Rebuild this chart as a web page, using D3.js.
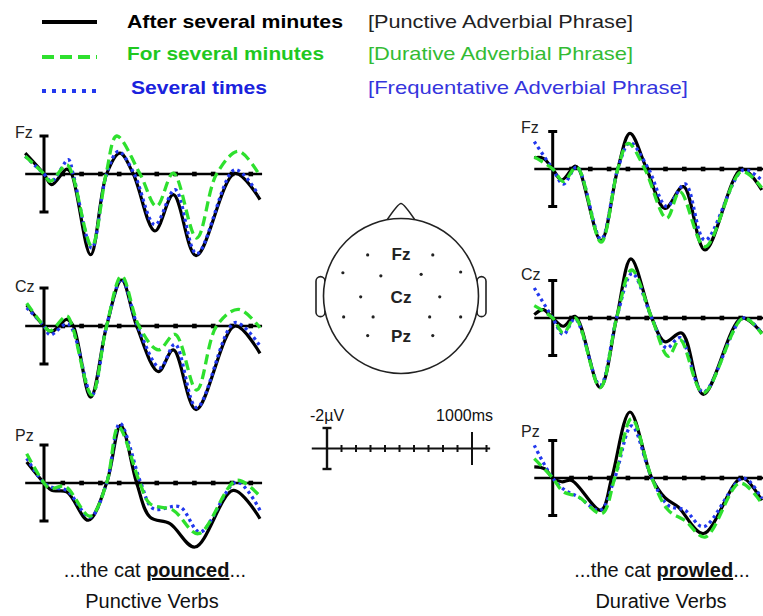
<!DOCTYPE html>
<html><head><meta charset="utf-8">
<script src="https://cdn.jsdelivr.net/npm/d3@7"></script>
<style>body{margin:0;background:#fff}svg{display:block}text{font-family:Arial,"Liberation Sans",sans-serif}</style>
</head><body><svg id="c" width="763" height="616"></svg>
<script>
// ---------------- DATA ----------------
const conditions = ["After several minutes", "For several minutes", "Several times"];
const phrases = ["[Punctive Adverbial Phrase]", "[Durative Adverbial Phrase]", "[Frequentative Adverbial Phrase]"];
const electrodes = ["Fz", "Cz", "Pz"];
const timeTicks = [100, 200, 300, 400, 500, 600, 700, 800, 900, 1000, 1100];
const calibAmp = 2;        // µV, negative plotted up
const calibTime = 1000;    // ms

// Punctive verbs ([time ms, amplitude µV])
const punctFzAfter = [[-100,-1.1],[0,0],[41,0.56],[121,-0.26],[147,0],[248,4.25],[333,0],[404,-1.1],[475,0],[590,3.0],[688,1.09],[809,4.3],[1016,-0.03],[1149,1.35]];
const punctFzFor   = [[-100,-0.93],[0,0],[32,0.39],[121,-0.49],[150,0],[254,3.8],[330,0],[387,-2.0],[511,0],[599,1.7],[688,-0.05],[812,3.37],[918,0],[1034,-1.19],[1140,-0.05]];
const punctFzTimes = [[-100,-0.93],[0,0],[41,0.39],[129,-0.75],[155,0],[254,3.9],[333,0],[396,-1.19],[480,0],[590,2.67],[697,0.82],[812,4.2],[1016,-0.23],[1140,1.09]];

const punctCzAfter = [[-92,-1.1],[0,0],[41,0.3],[121,-0.35],[156,0],[248,3.75],[333,0],[413,-2.42],[493,0],[608,2.4],[688,1.26],[809,4.4],[1016,0],[1149,1.44]];
const punctCzFor   = [[-92,-1.2],[0,0],[32,0.26],[121,-0.53],[150,0],[254,3.63],[333,0],[413,-2.63],[505,0],[608,1.26],[697,0.44],[812,3.37],[918,0],[1034,-0.88],[1149,0.09]];
const punctCzTimes = [[-92,-0.96],[0,0],[32,0.47],[129,-0.1],[254,3.63],[333,0],[413,-2.46],[498,0],[617,2.2],[697,0.96],[812,4.3],[1016,-0.18],[1149,1.05]];

const punctPzAfter = [[-92,-1.1],[0,0],[41,0.39],[121,0.47],[236,1.96],[333,0],[408,-3.04],[493,0],[564,1.8],[670,2.14],[803,3.37],[1007,0.39],[1149,1.88]];
const punctPzFor   = [[-92,-1.54],[0,0],[32,0.3],[112,0.18],[245,1.75],[333,0],[396,-2.95],[510,0],[564,1.09],[688,1.44],[821,2.67],[1025,-0.14],[1149,0.7]];
const punctPzTimes = [[-92,-1.3],[0,0],[50,0.25],[121,0.39],[245,1.8],[333,0],[404,-3.13],[515,0],[581,1.35],[723,1.26],[830,2.58],[1025,-0.05],[1149,1.44]];

// Durative verbs
const durFzAfter = [[-98,-0.6],[-50,-0.57],[0,0],[48,0.59],[119,-0.16],[140,0],[257,3.82],[346,0],[411,-1.9],[500,0],[597,2.1],[695,0.94],[810,4.32],[1005,0],[1112,1.12]];
const durFzFor   = [[-98,-0.65],[0,0],[57,0.67],[128,-0.1],[257,3.9],[346,0],[402,-1.37],[490,0],[606,2.63],[677,1.21],[810,4.14],[1005,0.14],[1112,1.0]];
const durFzTimes = [[-98,-1.46],[0,0],[57,0.8],[128,-0.1],[257,3.75],[346,0],[411,-1.4],[510,0],[606,2.0],[704,0.8],[810,3.8],[1014,0.05],[1112,0.6]];

const durCzAfter = [[-98,-0.18],[-50,-0.45],[0,0],[57,0.44],[119,-0.09],[252,3.71],[340,0],[416,-3.15],[527,0],[597,1.27],[686,0.8],[801,4.07],[1005,0],[1112,0.8]];
const durCzFor   = [[-98,-0.66],[0,0],[57,0.8],[119,0],[252,3.71],[340,0],[420,-2.56],[527,0],[615,2.04],[677,1.15],[801,4.0],[1014,0],[1112,0.85]];
const durCzTimes = [[-98,-1.6],[0,0],[57,0.88],[119,0.05],[252,3.6],[340,0],[423,-2.38],[527,0],[606,1.6],[677,1.05],[801,3.95],[1014,0],[1112,0.8]];

const durPzAfter = [[-98,-0.59],[-41,-0.48],[0,0],[48,0.2],[101,0.13],[257,1.72],[314,0],[411,-3.52],[527,0],[597,1.05],[668,1.55],[801,2.96],[1005,0],[1112,1.2]];
const durPzFor   = [[-98,-1.03],[0,0],[57,0.74],[136,1.0],[261,1.9],[330,0],[420,-3.17],[527,0],[615,1.72],[704,2.27],[810,3.15],[996,0.27],[1112,1.35]];
const durPzTimes = [[-98,-1.74],[0,0],[66,0.65],[136,1.0],[252,1.72],[330,0],[420,-2.78],[527,0],[615,1.46],[704,1.72],[801,2.6],[1014,0],[1112,1.1]];

// Electrode montage (normalised head coords, radius = 1)
const montage = [[-0.43,-0.53],[0.41,-0.53],[-0.75,-0.3],[-0.26,-0.26],[0.26,-0.28],[0.77,-0.31],[-0.52,0.01],[0.5,0.01],[-0.74,0.27],[-0.36,0.27],[0.37,0.27],[0.77,0.27],[-0.43,0.51],[0.41,0.51]];
const headLabels = [["Fz",-0.54],["Cz",0.01],["Pz",0.51]];

const bottomLeft = ["...the cat ", "pounced", "..."];
const bottomRight = ["...the cat ", "prowled", "..."];
const verbTypes = ["Punctive Verbs", "Durative Verbs"];

// ---------------- STYLE / LAYOUT ----------------
const colors = ["#000000", "#2ee02e", "#2238ee"];
const textColors = ["#000000", "#1fc81f", "#1a22dd"];
const phraseColors = ["#222222", "#33bb33", "#3535dd"];
const dashes = [null, "10,5", "3,3.4"];
const drawOrder = [0, 2, 1];

const svg = d3.select("#c");

// Legend
const legY = [22, 57, 91];
const legBase = [28, 60, 94];
const legLen = [216, 197, 136];
const phrLen = [265, 265, 320];
const legendDash = [null, "12,6", "4,6"];
conditions.forEach((c, i) => {
  svg.append("line").attr("x1", 42).attr("x2", 97).attr("y1", legY[i]).attr("y2", legY[i])
    .attr("stroke", colors[i]).attr("stroke-width", 4)
    .attr("stroke-dasharray", legendDash[i]);
  svg.append("text").attr("x", i === 2 ? 131 : 127).attr("y", legBase[i]).text(c)
    .attr("font-size", 19).attr("font-weight", "bold").attr("fill", textColors[i])
    .attr("textLength", legLen[i]).attr("lengthAdjust", "spacingAndGlyphs");
  svg.append("text").attr("x", 368).attr("y", legBase[i]).text(phrases[i])
    .attr("font-size", 19).attr("fill", phraseColors[i])
    .attr("textLength", phrLen[i]).attr("lengthAdjust", "spacingAndGlyphs");
});

// Panels
const panelSets = [
  { barX: 44, pxPer100: 18.8, t0: -100, t1: 1160, half: 38, axisY: [174, 326, 483], labelX: 15, labelY: [138, 292, 441],
    data: [[punctFzAfter, punctFzFor, punctFzTimes], [punctCzAfter, punctCzFor, punctCzTimes], [punctPzAfter, punctPzFor, punctPzTimes]] },
  { barX: 552.7, pxPer100: 18.8, t0: -98, t1: 1125, half: 37.5, axisY: [169, 318, 478], labelX: 521, labelY: [133, 280, 437],
    data: [[durFzAfter, durFzFor, durFzTimes], [durCzAfter, durCzFor, durCzTimes], [durPzAfter, durPzFor, durPzTimes]] }
];

panelSets.forEach(ps => {
  const x = d3.scaleLinear().domain([0, 1000]).range([ps.barX, ps.barX + ps.pxPer100 * 10]);
  electrodes.forEach((el, r) => {
    const y = d3.scaleLinear().domain([-calibAmp, calibAmp]).range([ps.axisY[r] - ps.half, ps.axisY[r] + ps.half]);
    const g = svg.append("g");
    g.append("line").attr("x1", x(ps.t0)).attr("x2", x(ps.t1)).attr("y1", y(0)).attr("y2", y(0))
      .attr("stroke", "#000").attr("stroke-width", 2.5);
    g.selectAll("rect.tk").data(timeTicks.filter(t => t <= ps.t1)).join("rect")
      .attr("x", d => x(d) - 2.3).attr("y", y(0) - 2.3).attr("width", 4.6).attr("height", 4.6).attr("fill", "#000");
    g.append("line").attr("x1", x(0)).attr("x2", x(0)).attr("y1", y(-calibAmp)).attr("y2", y(calibAmp))
      .attr("stroke", "#000").attr("stroke-width", 3);
    [-calibAmp, calibAmp].forEach(v => g.append("line").attr("x1", x(0) - 4.5).attr("x2", x(0) + 4.5)
      .attr("y1", y(v)).attr("y2", y(v)).attr("stroke", "#000").attr("stroke-width", 3));
    const line = d3.line().x(d => x(d[0])).y(d => y(d[1])).curve(d3.curveCatmullRom.alpha(0.5));
    drawOrder.forEach(ci => {
      g.append("path").attr("d", line(ps.data[r][ci])).attr("fill", "none")
        .attr("stroke", colors[ci]).attr("stroke-width", ci === 0 ? 3.2 : 3.3)
        .attr("stroke-dasharray", dashes[ci]);
    });
    g.append("text").attr("x", ps.labelX).attr("y", ps.labelY[r]).text(el)
      .attr("font-size", 16).attr("fill", "#222");
  });
});

// Head
const hc = { x: 401, y: 296, r: 77.5 };
const hx = d3.scaleLinear().domain([-1, 1]).range([hc.x - hc.r, hc.x + hc.r]);
const hy = d3.scaleLinear().domain([-1, 1]).range([hc.y - hc.r, hc.y + hc.r]);
const hg = svg.append("g").attr("stroke", "#222").attr("stroke-width", 1.6).attr("fill", "#fff");
[-1, 1].forEach(s => {
  hg.append("rect").attr("x", s < 0 ? hx(-1) - 7.5 : hx(1) - 1.5).attr("y", hy(-0.25)).attr("width", 9).attr("height", 40).attr("rx", 4.5);
});
hg.append("path").attr("d", `M${hc.x - 15},${hc.y - hc.r + 3} Q${hc.x - 3},${hc.y - hc.r - 15} ${hc.x},${hc.y - hc.r - 15} Q${hc.x + 3},${hc.y - hc.r - 15} ${hc.x + 15},${hc.y - hc.r + 3}`);
hg.append("circle").attr("cx", hc.x).attr("cy", hc.y).attr("r", hc.r);
svg.selectAll("circle.el").data(montage).join("circle").attr("class", "el")
  .attr("cx", d => hx(d[0])).attr("cy", d => hy(d[1])).attr("r", 1.6).attr("fill", "#222");
headLabels.forEach(([lab, v]) => svg.append("text").attr("x", hc.x).attr("y", hy(v)).attr("dy", "0.36em")
  .attr("text-anchor", "middle").attr("font-size", 17).attr("font-weight", "bold").attr("fill", "#222").text(lab));

// Calibration legend
const cx = d3.scaleLinear().domain([0, calibTime]).range([327, 472]);
const cy = d3.scaleLinear().domain([-calibAmp, calibAmp]).range([428, 469]);
const cg = svg.append("g").attr("stroke", "#111");
cg.append("line").attr("x1", cx(-105)).attr("x2", cx(1125)).attr("y1", cy(0)).attr("y2", cy(0)).attr("stroke-width", 2);
cg.selectAll("line.t").data(timeTicks).join("line").attr("x1", d => cx(d)).attr("x2", d => cx(d))
  .attr("y1", d => d === calibTime ? cy(-1.6) : cy(0) - 3.5).attr("y2", d => d === calibTime ? cy(1.6) : cy(0) + 3.5).attr("stroke-width", 2);
cg.append("line").attr("x1", cx(0)).attr("x2", cx(0)).attr("y1", cy(-calibAmp)).attr("y2", cy(calibAmp)).attr("stroke-width", 2.4);
[-calibAmp, calibAmp].forEach(v => cg.append("line").attr("x1", cx(0) - 4.5).attr("x2", cx(0) + 4.5).attr("y1", cy(v)).attr("y2", cy(v)).attr("stroke-width", 2.4));
svg.append("text").attr("x", 310).attr("y", 421).attr("font-size", 16).attr("fill", "#111").text("-" + calibAmp + "µV");
svg.append("text").attr("x", 493).attr("y", 421).attr("text-anchor", "end").attr("font-size", 16).attr("fill", "#111").text(calibTime + "ms");

// Bottom captions
[[bottomLeft, 155, verbTypes[0], 152], [bottomRight, 662, verbTypes[1], 661]].forEach(([parts, x1, vt, x2]) => {
  const t = svg.append("text").attr("x", x1).attr("y", 577).attr("text-anchor", "middle").attr("font-size", 20).attr("fill", "#111");
  t.append("tspan").text(parts[0]);
  t.append("tspan").text(parts[1]).attr("font-weight", "bold").attr("text-decoration", "underline");
  t.append("tspan").text(parts[2]);
  svg.append("text").attr("x", x2).attr("y", 608).attr("text-anchor", "middle").attr("font-size", 20).attr("fill", "#111").text(vt);
});
</script></body></html>
